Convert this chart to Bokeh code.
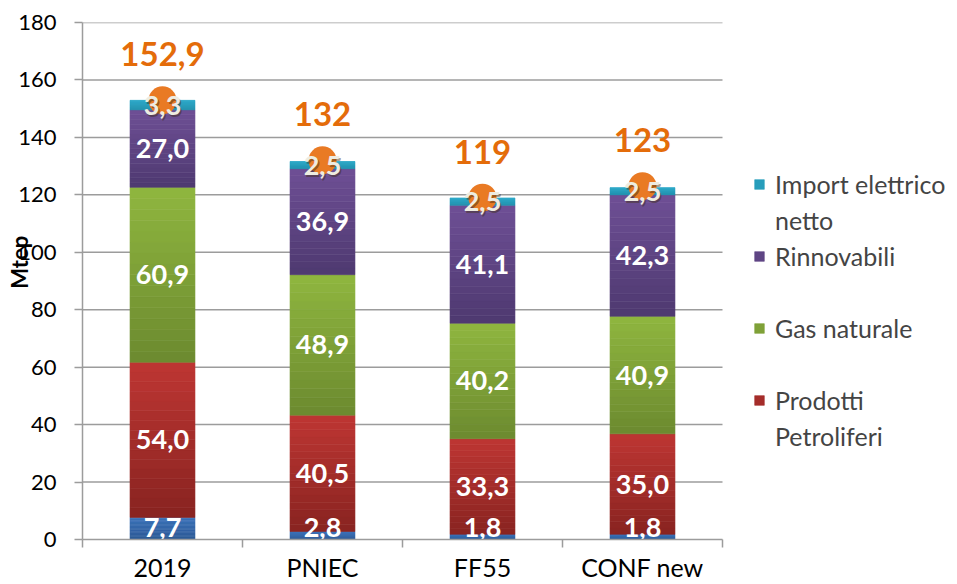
from bokeh.plotting import figure
from bokeh.models import ColumnDataSource, FixedTicker, Legend, LegendItem
from bokeh.embed import file_html
from bokeh.resources import INLINE
from bokeh.core.properties import value

categories = ["2019", "PNIEC", "FF55", "CONF new"]
solidi = [7.7, 2.8, 1.8, 1.8]
petroliferi = [54.0, 40.5, 33.3, 35.0]
gas = [60.9, 48.9, 40.2, 40.9]
rinnovabili = [27.0, 36.9, 41.1, 42.3]
import_el = [3.3, 2.5, 2.5, 2.5]
totals = [152.9, 132, 119, 123]
y_ticks = [0, 20, 40, 60, 80, 100, 120, 140, 160, 180]

# (name, values, top colour, bottom colour)
series = [
    ("Solidi", solidi, "#3B71B8", "#2D5A96"),
    ("Prodotti Petroliferi", petroliferi, "#BE3633", "#882320"),
    ("Gas naturale", gas, "#8FB63F", "#6C8A2F"),
    ("Rinnovabili", rinnovabili, "#6E4F95", "#4E3970"),
    ("Import elettrico netto", import_el, "#2CA8C8", "#2290AD"),
]
legend_lines = [
    ("Import elettrico netto", ["Import elettrico", "netto"]),
    ("Rinnovabili", ["Rinnovabili", " "]),
    ("Gas naturale", ["Gas naturale", " "]),
    ("Prodotti Petroliferi", ["Prodotti", "Petroliferi"]),
]

FONT = "Lato"
GRAY = "#9C9C9C"
N_BANDS = 16
W, H = 957, 584
B_LEFT, B_RIGHT, B_TOP, B_BOTTOM = 82, 0, 22, 45
FRAME_W = W - B_LEFT - B_RIGHT
X_END = 4 * FRAME_W / 640.0


def fmt(v):
    if isinstance(v, int):
        return str(v)
    return f"{v:.1f}".replace(".", ",")


def lerp_hex(c0, c1, t):
    a = [int(c0[i:i + 2], 16) for i in (1, 3, 5)]
    b = [int(c1[i:i + 2], 16) for i in (1, 3, 5)]
    return "#" + "".join(f"{round(x + (y - x) * t):02x}" for x, y in zip(a, b))


xs = [i + 0.5 for i in range(len(categories))]

p = figure(width=W, height=H, x_range=(0, X_END), y_range=(0, 180),
           output_backend="svg", toolbar_location=None,
           min_border_left=B_LEFT, min_border_right=B_RIGHT,
           min_border_top=B_TOP, min_border_bottom=B_BOTTOM)
p.outline_line_color = None
p.background_fill_color = "white"
p.border_fill_color = "white"

# horizontal grid lines limited to the category span
p.segment(x0=0, x1=len(categories), y0=y_ticks[1:], y1=y_ticks[1:],
          line_color=GRAY, line_width=1.5)

renderers = {}
bottom = [0.0] * len(categories)
label_x, label_y, label_t = [], [], []
top_x, top_y, top_t = [], [], []
for idx, (name, vals, ctop, cbot) in enumerate(series):
    tops = [b + v for b, v in zip(bottom, vals)]
    for k in range(N_BANDS):
        b_k = [b + v * k / N_BANDS for b, v in zip(bottom, vals)]
        t_k = [b + v * (k + 1) / N_BANDS for b, v in zip(bottom, vals)]
        col = lerp_hex(cbot, ctop, (k + 0.5) / N_BANDS)
        src = ColumnDataSource(dict(x=xs, bottom=b_k, top=t_k))
        r = p.vbar(x="x", width=0.406, bottom="bottom", top="top", source=src,
                   fill_color=col, line_color=col, line_width=0.6)
        if k == N_BANDS // 2:
            renderers[name] = r
    for x, b, v in zip(xs, bottom, vals):
        mid = b + v / 2
        if idx == 0:
            mid = max(mid, 4.2)
        if idx == len(series) - 1:
            top_x.append(x); top_y.append(mid); top_t.append(fmt(v))
        else:
            label_x.append(x); label_y.append(mid); label_t.append(fmt(v))
    bottom = tops

p.text(x=label_x, y=label_y, text=label_t, text_color="white",
       text_font=value(FONT), text_font_style="bold", text_font_size="27px",
       text_align="center", text_baseline="middle")

# total markers
p.scatter(x=xs, y=totals, size=28, fill_color="#E97A24", line_color=None)

# import labels with shadow
p.text(x=top_x, y=top_y, text=top_t, text_color="#3A2A10", text_alpha=0.45,
       x_offset=1.5, y_offset=2,
       text_font=value(FONT), text_font_style="bold", text_font_size="27px",
       text_align="center", text_baseline="middle")
p.text(x=top_x, y=top_y, text=top_t, text_color="#EEECE1",
       text_font=value(FONT), text_font_style="bold", text_font_size="27px",
       text_align="center", text_baseline="middle")

# totals labels
p.text(x=xs, y=totals, text=[fmt(t) for t in totals], text_color="#E46C0A",
       y_offset=-46,
       text_font=value(FONT), text_font_style="bold", text_font_size="33px",
       text_align="center", text_baseline="middle")

# axes
xa = p.xaxis[0]
xa.bounds = (0, len(categories))
xa.ticker = FixedTicker(ticks=xs, minor_ticks=list(range(len(categories) + 1)))
xa.major_label_overrides = {x: c for x, c in zip(xs, categories)}
xa.major_tick_line_color = None
xa.major_tick_out = 0
xa.major_tick_in = 0
xa.minor_tick_out = 8
xa.minor_tick_in = 0
xa.minor_tick_line_color = GRAY
xa.minor_tick_line_width = 1.5
xa.axis_line_color = GRAY
xa.axis_line_width = 1.5
xa.major_label_standoff = 4
xa.major_label_text_font = FONT
xa.major_label_text_font_size = "25px"
xa.major_label_text_color = "black"

ya = p.yaxis[0]
ya.ticker = FixedTicker(ticks=y_ticks)
ya.major_tick_out = 8
ya.major_tick_in = 0
ya.major_tick_line_color = GRAY
ya.major_tick_line_width = 1.5
ya.minor_tick_line_color = None
ya.axis_line_color = GRAY
ya.axis_line_width = 1.5
ya.major_label_standoff = 18
ya.major_label_text_font = FONT
ya.major_label_text_font_size = "22px"
ya.major_label_text_color = "black"
ya.axis_label = "\u00a0" * 7 + "Mtep"
ya.axis_label_text_font = FONT
ya.axis_label_text_font_style = "bold"
ya.axis_label_text_font_size = "22px"
ya.axis_label_text_color = "black"
ya.axis_label_standoff = -18

p.xgrid.visible = False
p.ygrid.visible = False

legend_items = []
for name, lines in legend_lines:
    legend_items.append(LegendItem(label=lines[0], renderers=[renderers[name]]))
    legend_items.append(LegendItem(label=lines[1], renderers=[]))
legend = Legend(items=legend_items, location=(671, 85),
                glyph_width=12, glyph_height=12, label_standoff=10,
                label_text_font=FONT, label_text_font_size="25px",
                label_height=36, spacing=0, padding=0, margin=0,
                border_line_color=None, background_fill_alpha=0)
p.add_layout(legend)

open("out.html", "w").write(file_html(p, INLINE))
